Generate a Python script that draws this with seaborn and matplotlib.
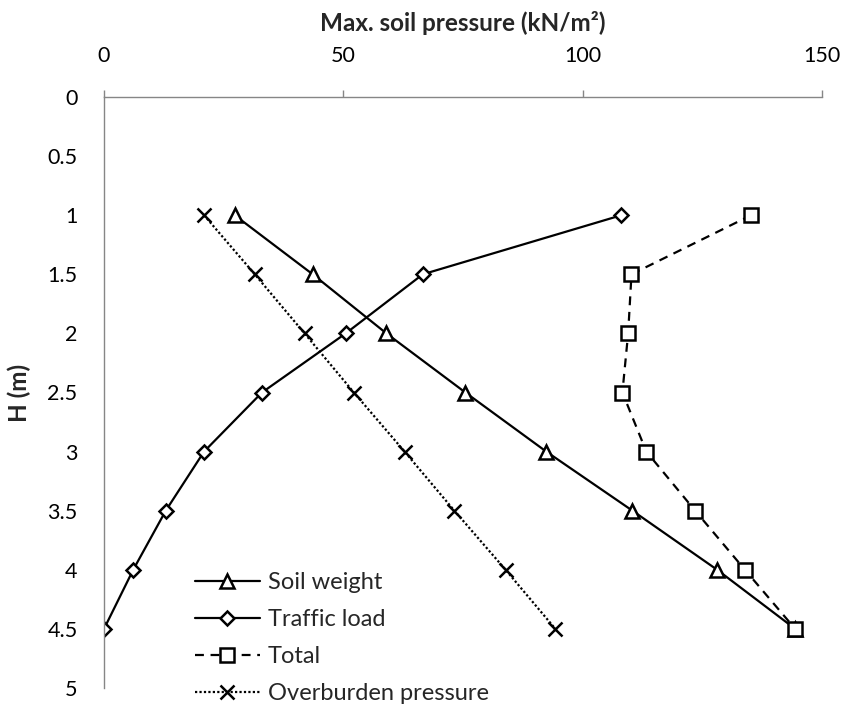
import numpy as np
import pandas as pd
import matplotlib.pyplot as plt
from matplotlib.ticker import FuncFormatter
import seaborn as sns

# Depth below surface (m) and max soil pressure (kN/m2)
depth = [1, 1.5, 2, 2.5, 3, 3.5, 4, 4.5]
soil_weight = [27.3, 43.6, 59.0, 75.5, 92.4, 110.4, 128.1, 144.4]
traffic_load = [108.1, 66.6, 50.5, 33.0, 20.9, 12.9, 6.1, 0.0]
total = [135.2, 110.2, 109.5, 108.3, 113.3, 123.5, 133.9, 144.4]
overburden = [20.9, 31.5, 41.9, 52.2, 62.8, 73.2, 83.9, 94.3]

series_names = ["Soil weight", "Traffic load", "Total", "Overburden pressure"]
x_ticks = [0, 50, 100, 150]
y_ticks = [0, 0.5, 1, 1.5, 2, 2.5, 3, 3.5, 4, 4.5, 5]

df = pd.DataFrame({
    "H": depth * 4,
    "pressure": soil_weight + traffic_load + total + overburden,
    "series": np.repeat(series_names, len(depth)),
})

sns.set_style("white")
plt.rcParams["font.family"] = ["Lato", "DejaVu Sans"]

fig = plt.figure(figsize=(8.43, 7.09), dpi=100)
ax = fig.add_axes([104 / 843, 1 - 688 / 709, 718 / 843, (688 - 97) / 709])

# style for each series: marker, size, line style
styles = {
    "Soil weight": dict(marker="^", markersize=10, linestyle="-"),
    "Traffic load": dict(marker="D", markersize=7, linestyle="-"),
    "Total": dict(marker="s", markersize=10, linestyle=(0, (4, 3))),
    "Overburden pressure": dict(marker="x", markersize=10, linestyle=(0, (1, 1))),
}

for name in series_names:
    sub = df[df["series"] == name]
    sns.lineplot(data=sub, x="pressure", y="H", ax=ax, orient="y", sort=False,
                 color="black", linewidth=1.6, label=name,
                 markerfacecolor="white", markeredgecolor="black",
                 markeredgewidth=1.8, **styles[name])

ax.set_xlim(0, 150)
ax.set_ylim(5, 0)
ax.set_xticks(x_ticks)
ax.set_yticks(y_ticks)
ax.yaxis.set_major_formatter(FuncFormatter(lambda v, p: f"{v:g}"))

ax.xaxis.tick_top()
ax.xaxis.set_label_position("top")
for side in ["right", "bottom"]:
    ax.spines[side].set_visible(False)
for side in ["left", "top"]:
    ax.spines[side].set_color("#868686")
    ax.spines[side].set_linewidth(1.0)

ax.tick_params(axis="both", direction="out", length=5, width=1.0,
               color="#868686", labelsize=15.5, labelcolor="black", pad=14)
ax.tick_params(axis="x", pad=17)

ax.set_xlabel("Max. soil pressure (kN/m²)", fontsize=17.5, fontweight="bold", labelpad=11)
ax.set_ylabel("H (m)", fontsize=17.5, fontweight="bold", labelpad=12)

leg = ax.legend(loc="upper left", bbox_to_anchor=(195 / 843, 1 - 572 / 709),
                bbox_transform=fig.transFigure, frameon=False, fontsize=17,
                handlelength=2.75, handletextpad=0.34, labelspacing=0.68,
                borderpad=0, borderaxespad=0)

plt.savefig("out.png", dpi=100)
